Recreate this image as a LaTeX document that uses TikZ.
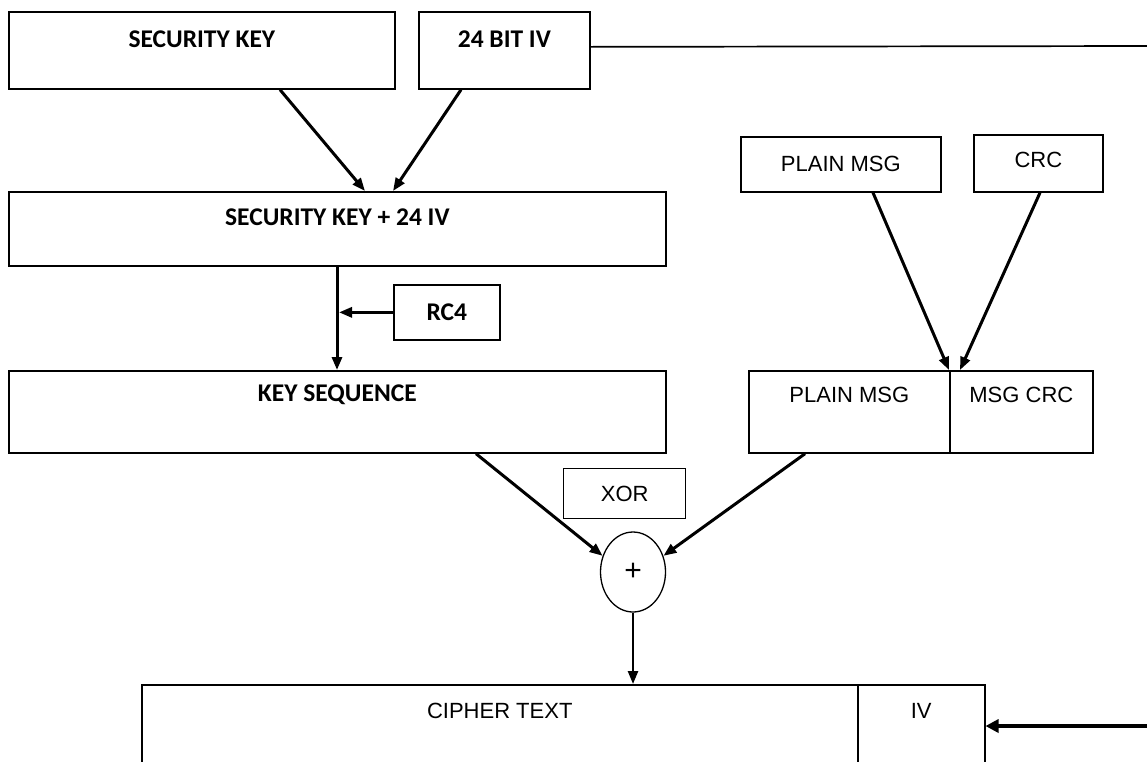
\documentclass[tikz,border=0pt]{standalone}
\usepackage{fontspec}
\setmainfont{Carlito}
\newfontfamily\arialf{Liberation Sans}
\usetikzlibrary{arrows.meta,shapes.geometric}
\tikzset{
  box/.style={draw, line width=1.7pt, rectangle, inner sep=0pt, anchor=north west},
  boldlab/.style={font=\bfseries\fontsize{25.5}{26}\selectfont},
  reglab/.style={font=\arialf\fontsize{22}{24}\selectfont},
  conn/.style={line width=3pt, -{Triangle[length=13pt,width=10pt]}},
  thinconn/.style={line width=2.4pt, -{Triangle[length=13pt,width=10pt]}},
}
\begin{document}
\begin{tikzpicture}[x=1pt,y=-1pt]
\useasboundingbox (0,0) rectangle (1147,761);
% top row
\node[box, minimum width=386pt, minimum height=77pt,
  label={[boldlab,anchor=center,yshift=-28pt]north:SECURITY KEY}] (sk) at (8,11) {};
\node[box, minimum width=171pt, minimum height=77pt,
  label={[boldlab,anchor=center,yshift=-28pt]north:24 BIT IV}] (iv24) at (418,11) {};
\node[box, minimum width=657pt, minimum height=74pt,
  label={[boldlab,anchor=center,yshift=-26pt]north:SECURITY KEY + 24 IV}] (skiv) at (8,191) {};
\node[box, minimum width=106pt, minimum height=55pt, boldlab] (rc4) at (393,284) {RC4};
\node[box, minimum width=657pt, minimum height=82pt,
  label={[boldlab,anchor=center,yshift=-25pt]north:KEY SEQUENCE}] (ks) at (8,370) {};
% right side
\node[box, minimum width=200pt, minimum height=55pt, reglab] (pm) at (740,136) {PLAIN MSG};
\node[box, minimum width=129pt, minimum height=57pt,
  label={[reglab,anchor=center,yshift=-26pt]north:CRC}] (crc) at (973,134) {};
\node[box, minimum width=201pt, minimum height=82pt,
  label={[reglab,anchor=center,yshift=-25pt]north:PLAIN MSG}] (pmsg) at (748,370) {};
\node[box, minimum width=143pt, minimum height=82pt,
  label={[reglab,anchor=center,yshift=-25pt]north:MSG CRC}] (mcrc) at (949,370) {};
% xor
\node[box, line width=1.4pt, minimum width=122pt, minimum height=50pt, reglab] (xor) at (563,468) {XOR};
\node[draw, ellipse, line width=1.3pt, minimum width=65pt, minimum height=80pt, inner sep=0pt,
  font=\arialf\fontsize{30}{30}\selectfont] (plus) at (633,572) {+};
% cipher text (cut off at bottom)
\begin{scope}
\clip (0,0) rectangle (1147,761);
\node[box, line width=1.5pt, minimum width=716pt, minimum height=140pt,
  label={[reglab,anchor=center,yshift=-27pt]north:CIPHER TEXT}] (ct) at (141,684) {};
\node[box, line width=1.5pt, minimum width=127pt, minimum height=140pt,
  label={[reglab,anchor=center,yshift=-27pt]north:IV}] (iv) at (857,684) {};
\end{scope}
% helper coordinates
\coordinate (a1) at ([xshift=329pt]skiv.south west);
\coordinate (e1) at (1147,46);
\coordinate (e2) at (1147,726);
% connectors
\draw[conn] ([xshift=272pt]sk.south west) -- ([xshift=357pt]skiv.north west);
\draw[conn] ([xshift=43pt]iv24.south west) -- ([xshift=385pt]skiv.north west);
\draw[conn] (a1) -- ([xshift=329pt]ks.north west);
\draw[conn] (rc4.west) -- ([xshift=2pt]a1 |- rc4.west);
\draw[conn] ([xshift=133pt]pm.south west) -- (mcrc.north west);
\draw[conn] ([xshift=67pt]crc.south west) -- ([xshift=11pt]mcrc.north west);
\draw[conn] ([xshift=468pt]ks.south west) -- (plus.152);
\draw[conn] ([xshift=57pt]pmsg.south west) -- (plus.28);
\draw[thinconn] (plus.south) -- ([xshift=492pt]ct.north west);
\draw[line width=1.7pt] ([yshift=3.5pt]iv24.east) -- (e1);
\draw[line width=3.8pt, -{Triangle[length=13pt,width=13pt]}] (e2) -- ([yshift=-42pt]iv.north east);
\end{tikzpicture}
\end{document}
